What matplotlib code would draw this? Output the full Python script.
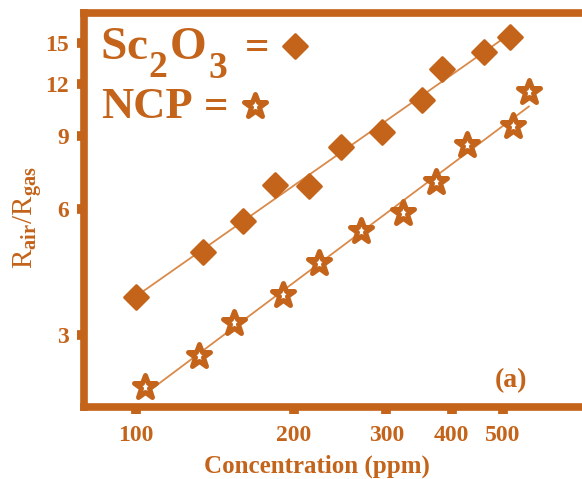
import numpy as np
import matplotlib
matplotlib.use("Agg")
import matplotlib.pyplot as plt
from matplotlib.lines import Line2D
from matplotlib.markers import MarkerStyle
from matplotlib.ticker import FixedLocator, NullLocator

plt.rcParams['font.family'] = ['Liberation Serif', 'DejaVu Serif']
plt.rcParams['font.weight'] = 'bold'
plt.rcParams['mathtext.fontset'] = 'custom'
plt.rcParams['mathtext.rm'] = 'Liberation Serif:bold'
plt.rcParams['mathtext.it'] = 'Liberation Serif:bold'
plt.rcParams['mathtext.bf'] = 'Liberation Serif:bold'
plt.rcParams['mathtext.default'] = 'rm'

# data
sc_conc = [100, 134, 160, 184, 214, 246, 295, 351, 383, 460, 516]
sc_resp = [3.70, 4.74, 5.62, 6.85, 6.82, 8.45, 9.18, 10.95, 12.98, 14.26, 15.49]
ncp_conc = [104, 132, 154, 191, 223, 268, 323, 374, 427, 523, 561]
ncp_resp = [2.25, 2.67, 3.20, 3.74, 4.46, 5.32, 5.87, 6.97, 8.54, 9.49, 11.45]
x_ticks = [100, 200, 300, 400, 500]
y_ticks = [3, 6, 9, 12, 15]

c = "#c4631a"
c_line = "#d98a4a"
H = 479

fig = plt.figure(figsize=(5.82, 4.79), dpi=100)
ax = fig.add_axes([0.1443, 0.1503, 0.87, 0.8226])
ax.set_xscale("log")
ax.set_yscale("log")

diamond = MarkerStyle("D", joinstyle="round")
star = MarkerStyle("*", joinstyle="round")

# linear fit in log-log space
for xs, ys in [(sc_conc, sc_resp), (ncp_conc, ncp_resp)]:
    k, b = np.polyfit(np.log10(xs), np.log10(ys), 1)
    xf = np.array([min(xs), max(xs)])
    ax.plot(xf, 10 ** (k * np.log10(xf) + b), color=c_line, lw=1.3, zorder=1)

ax.plot(sc_conc, sc_resp, ls="none", marker=diamond, ms=12, color=c,
        mec=c, mew=2, zorder=3)
ax.plot(ncp_conc, ncp_resp, ls="none", marker=star, ms=17, mfc="white",
        mec=c, mew=3.6, zorder=3)

ax.set_xlim(79.6, 735)
ax.set_ylim(2.02, 17.7)

ax.xaxis.set_major_locator(FixedLocator(x_ticks))
ax.xaxis.set_minor_locator(NullLocator())
ax.set_xticklabels([str(v) for v in x_ticks])
ax.yaxis.set_major_locator(FixedLocator(y_ticks))
ax.yaxis.set_minor_locator(NullLocator())
ax.set_yticklabels([str(v) for v in y_ticks])

for s in ax.spines.values():
    s.set_color(c)
    s.set_linewidth(5.5)
ax.tick_params(axis="both", direction="out", length=5, width=7, color=c,
               labelcolor=c, labelsize=17)
ax.tick_params(axis="x", pad=8)
ax.tick_params(axis="y", pad=6)
for lab in ax.get_xticklabels() + ax.get_yticklabels():
    lab.set_fontweight("bold")

ax.set_xlabel("Concentration (ppm)", color=c, fontsize=18, fontweight="bold")
ax.xaxis.set_label_coords(0.46, -0.122)
ax.set_ylabel("R$_\\mathrm{air}$/R$_\\mathrm{gas}$", color=c, fontsize=21)
ax.yaxis.set_label_coords(-0.079, 0.48)

# key drawn by hand: text then marker on each row
def px(x, y):
    return x / 100, (H - y) / 100

tr = fig.dpi_scale_trans
key_parts = [("S", 100, 59, 34), ("c", 126, 59, 34), ("2", 148, 77, 27),
             ("O", 170, 59, 34), ("3", 208, 78, 27), ("=", 245, 59, 31),
             ("NCP", 101, 118, 32), ("=", 204, 118, 31)]
for s, x, y, fs in key_parts:
    fig.text(*px(x, y), s, transform=tr, color=c, fontsize=fs,
             fontweight="bold", ha="left", va="baseline")
fig.add_artist(Line2D([px(295, 46)[0]], [px(295, 46)[1]], transform=tr,
                      ls="none", marker=diamond, ms=12.5, color=c, mec=c, mew=2))
fig.add_artist(Line2D([px(255, 106)[0]], [px(255, 106)[1]], transform=tr,
                      ls="none", marker=star, ms=17, mfc="white", mec=c, mew=3.6))

ax.text(0.844, 0.066, "(a)", transform=ax.transAxes, color=c, fontsize=20,
        fontweight="bold", ha="center", va="center")

fig.savefig("out.png", dpi=100)
